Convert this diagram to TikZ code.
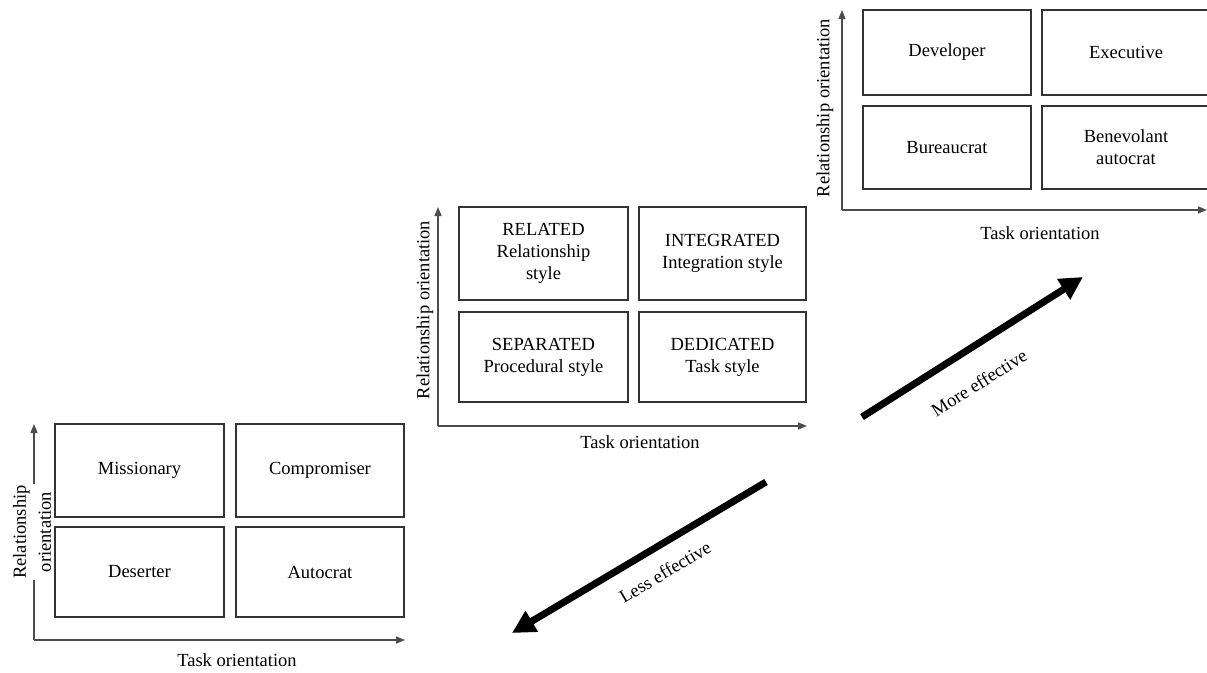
\documentclass[tikz,border=0pt]{standalone}
\usepackage{fontspec}
\setmainfont{Liberation Serif}
\usetikzlibrary{arrows.meta}
\begin{document}
\begin{tikzpicture}[x=1pt,y=-1pt,
  every node/.style={font=\fontsize{18.5}{22}\selectfont, align=center, text=black},
  cell/.style 2 args={draw=black!80, line width=1.4pt, minimum width=#1pt, minimum height=#2pt, inner sep=0pt},
  axis/.style={draw=black!70, line width=1.3pt, -{Triangle[length=9pt,width=7pt]}},
  trend/.style={line width=7pt, -{Triangle[length=23pt,width=23pt]}}]
\clip (0,0) rectangle (1207,672);
\fill[white] (0,0) rectangle (1207,672);

% ---- upper grid ----
\coordinate (oA) at (842,210);
\coordinate (yA) at (842,10);
\coordinate (xA) at (1207,210);
\draw[axis] (oA) -- (yA);
\draw[axis] (oA) -- (xA);
\node[cell={168}{85}] (dev) at (947,52.5) {Developer};
\node[cell={168}{85}] (exe) at (1126,52.5) {Executive};
\node[cell={168}{83}] (bur) at (947,147.5) {Bureaucrat};
\node[cell={168}{83}] (ben) at (1126,147.5) {Benevolant\\autocrat};
\node[rotate=90] (relA) at (825,108) {Relationship orientation};
\node (taskA) at (1040,233) {Task orientation};

% ---- middle grid ----
\coordinate (oB) at (438,426);
\coordinate (yB) at (438,207);
\coordinate (xB) at (807,426);
\draw[axis] (oB) -- (yB);
\draw[axis] (oB) -- (xB);
\node[cell={169}{93}] (rel) at (543.5,253.5) {RELATED\\Relationship\\style};
\node[cell={167}{93}] (int) at (722.5,253.5) {INTEGRATED\\Integration style};
\node[cell={169}{90}] (sep) at (543.5,357) {SEPARATED\\Procedural style};
\node[cell={167}{90}] (ded) at (722.5,357) {DEDICATED\\Task style};
\node[rotate=90] (relB) at (425,310) {Relationship orientation};
\node (taskB) at (640,442) {Task orientation};

% ---- lower grid ----
\coordinate (oC) at (34,640);
\coordinate (yC) at (34,424);
\coordinate (xC) at (405,640);
\draw[axis] (oC) -- (yC);
\draw[axis] (oC) -- (xC);
\node[cell={169}{93}] (mis) at (139.5,470.5) {Missionary};
\node[cell={168}{93}] (com) at (320,470.5) {Compromiser};
\node[cell={169}{90}] (des) at (139.5,572) {Deserter};
\node[cell={168}{90}] (aut) at (320,572) {Autocrat};
\node[rotate=90, fill=white, inner sep=1pt, font=\fontsize{18.5}{25}\selectfont] (relC) at (32,532) {Relationship\\orientation};
\node (taskC) at (237,660) {Task orientation};

% ---- effectiveness arrows ----
\coordinate (up0) at (862,417);
\coordinate (up1) at (1083,277);
\coordinate (dn0) at (766,482);
\coordinate (dn1) at (512,633);
\draw[trend] (up0) -- (up1);
\draw[trend] (dn0) -- (dn1);
\node[rotate=32.4] (more) at (979,383) {More effective};
\node[rotate=30.7] (less) at (665,572) {Less effective};
\end{tikzpicture}
\end{document}
